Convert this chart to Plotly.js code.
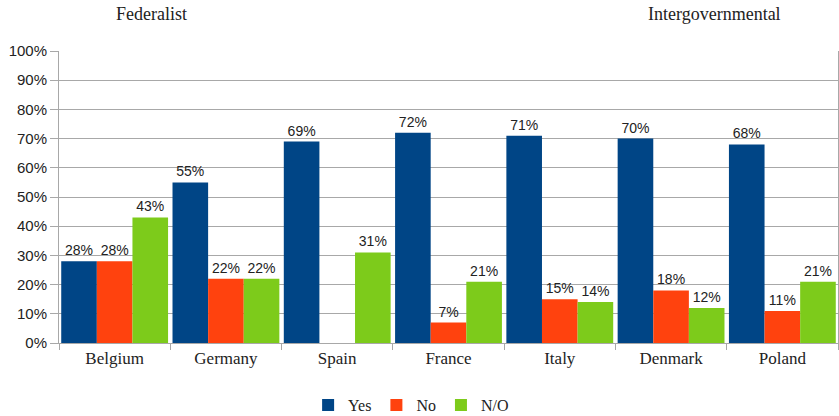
<!DOCTYPE html>
<html>
<head>
<meta charset="utf-8">
<script src="https://cdn.plot.ly/plotly-3.0.1.min.js"></script>
<style>html,body{margin:0;padding:0;background:#fff;}#chart{width:839px;height:416px;}</style>
</head>
<body>
<div id="chart"></div>
<script>
var countries = ["Belgium", "Germany", "Spain", "France", "Italy", "Denmark", "Poland"];
var yesValues = [28, 55, 69, 72, 71, 70, 68];
var noValues = [28, 22, null, 7, 15, 18, 11];
var noOpinionValues = [43, 22, 31, 21, 14, 12, 21];
var seriesNames = ["Yes", "No", "N/O"];
var groupLabels = ["Federalist", "Intergovernmental"];
var yTickValues = [0, 10, 20, 30, 40, 50, 60, 70, 80, 90, 100];
var yTickLabels = ["0%", "10%", "20%", "30%", "40%", "50%", "60%", "70%", "80%", "90%", "100%"];

var colors = ["#004586", "#ff420e", "#7dcb1b"];
var serif = '"Liberation Serif", "Times New Roman", serif';
var sans = '"Liberation Sans", Arial, sans-serif';
var labelFont = {family: sans, size: 14, color: "#222"};

function barTrace(name, vals, color) {
  return {
    type: "bar", name: name, x: countries, y: vals,
    marker: {color: color, line: {width: 0}},
    text: vals.map(function(v){ return v === null ? "" : v + "%"; }),
    textposition: "outside", textfont: labelFont, cliponaxis: false,
    hoverinfo: "skip"
  };
}

var data = [
  barTrace(seriesNames[0], yesValues, colors[0]),
  barTrace(seriesNames[1], noValues, colors[1]),
  barTrace(seriesNames[2], noOpinionValues, colors[2])
];

var layout = {
  width: 839, height: 416,
  margin: {l: 59, r: 1, t: 51, b: 73},
  paper_bgcolor: "#fff", plot_bgcolor: "#fff",
  barmode: "group", bargap: 0.04, bargroupgap: 0,
  showlegend: true,
  legend: {
    orientation: "h", x: 0.49, xanchor: "center", xref: "container",
    y: 0.026, yanchor: "middle", yref: "container",
    font: {family: serif, size: 16, color: "#222"},
    itemwidth: 30, traceorder: "normal"
  },
  xaxis: {
    type: "category", tickson: "boundaries", ticks: "outside", ticklen: 6,
    tickcolor: "#a8a8a8", showline: true, linecolor: "#a8a8a8", linewidth: 1,
    showgrid: false, zeroline: false, fixedrange: true,
    tickfont: {family: serif, size: 17, color: "#222"}
  },
  yaxis: {
    range: [0, 100], tickmode: "array", tickvals: yTickValues, ticktext: yTickLabels,
    ticks: "outside", ticklen: 8, tickcolor: "#a8a8a8",
    showgrid: true, gridcolor: "#a8a8a8", gridwidth: 1,
    showline: true, linecolor: "#a8a8a8", linewidth: 1, mirror: true,
    zeroline: false, fixedrange: true,
    tickfont: {family: sans, size: 15, color: "#222"}
  },
  annotations: [
    {text: groupLabels[0], xref: "paper", yref: "paper", x: 0.119, y: 1.127, xanchor: "center", yanchor: "middle", showarrow: false,
     font: {family: serif, size: 18, color: "#222"}},
    {text: groupLabels[1], xref: "paper", yref: "paper", x: 0.841, y: 1.127, xanchor: "center", yanchor: "middle", showarrow: false,
     font: {family: serif, size: 18, color: "#222"}}
  ]
};

Plotly.newPlot("chart", data, layout, {displayModeBar: false, staticPlot: true});
</script>
</body>
</html>
